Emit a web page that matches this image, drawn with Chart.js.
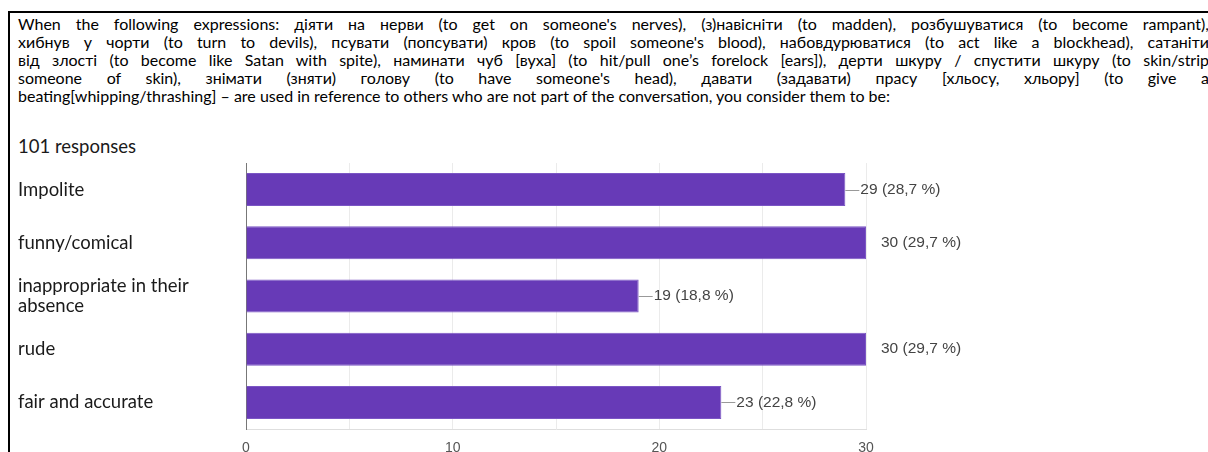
<!DOCTYPE html>
<html>
<head>
<meta charset="utf-8">
<script src="https://cdn.jsdelivr.net/npm/chart.js@4"></script>
<style>
  html, body { margin: 0; padding: 0; background: #fff; }
  body { width: 1208px; height: 452px; overflow: hidden; position: relative; }
  .frame { position: absolute; left: 8px; top: 11px; width: 1300px; height: 500px;
           border-top: 2px solid #000; border-left: 2px solid #000; }
  .question { position: absolute; left: 18px; top: 15px; width: 1191px;
              font-family: 'Lato', sans-serif; font-size: 16px; color: #000; }
  .question div { height: 18px; line-height: 18px; white-space: nowrap; }
  .question .just { text-align: justify; text-align-last: justify; }
  .responses { position: absolute; left: 18px; top: 135px;
               font-family: 'Lato', sans-serif; font-size: 18.5px; color: #1a1a1a; }
  #chart { position: absolute; left: 0; top: 150px; }
</style>
</head>
<body>
<div class="frame"></div>
<div class="question">
  <div class="just">When the following expressions: діяти на нерви (to get on someone's nerves), (з)навісніти (to madden), розбушуватися (to become rampant),</div>
  <div class="just">хибнув у чорти (to turn to devils), псувати (попсувати) кров (to spoil someone's blood), набовдурюватися (to act like a blockhead), сатаніти</div>
  <div class="just">від злості (to become like Satan with spite), наминати чуб [вуха] (to hit/pull one’s forelock [ears]), дерти шкуру / спустити шкуру (to skin/strip</div>
  <div class="just">someone of skin), знімати (зняти) голову (to have someone's head), давати (задавати) прасу [хльосу, хльору] (to give a</div>
  <div>beating[whipping/thrashing] – are used in reference to others who are not part of the conversation, you consider them to be:</div>
</div>
<div class="responses">101 responses</div>
<canvas id="chart" width="1208" height="310"></canvas>
<script>
const categories = ['Impolite', 'funny/comical', ['inappropriate in their', 'absence'], 'rude', 'fair and accurate'];
const counts = [29, 30, 19, 30, 23];
const totalResponses = 101;
const xTickLabels = [0, 10, 20, 30];

function pctLabel(v) {
  return v + ' (' + (v / totalResponses * 100).toFixed(1).replace('.', ',') + ' %)';
}

// value labels with a short leader line, like google forms
const valueLabels = {
  id: 'valueLabels',
  afterDatasetsDraw(chart) {
    const ctx = chart.ctx;
    const xMax = chart.scales.x.max;
    const meta = chart.getDatasetMeta(0);
    ctx.save();
    ctx.font = '15.5px "Liberation Sans", Arial, sans-serif';
    ctx.fillStyle = '#444';
    ctx.strokeStyle = '#999';
    ctx.lineWidth = 1;
    ctx.textAlign = 'left';
    ctx.textBaseline = 'middle';
    meta.data.forEach((bar, i) => {
      const v = counts[i];
      const y = Math.round(bar.y) + 0.5;
      if (v < xMax) {
        ctx.beginPath();
        ctx.moveTo(bar.x, y);
        ctx.lineTo(bar.x + 14, y);
        ctx.stroke();
      }
      ctx.fillText(pctLabel(v), bar.x + 15, bar.y);
    });
    ctx.restore();
  }
};

new Chart(document.getElementById('chart').getContext('2d'), {
  type: 'bar',
  data: {
    labels: categories,
    datasets: [{
      data: counts,
      backgroundColor: '#673ab7',
      borderColor: '#7b56c4',
      borderWidth: 1,
      barPercentage: 0.62,
      categoryPercentage: 1
    }]
  },
  options: {
    indexAxis: 'y',
    responsive: false,
    animation: false,
    layout: { padding: { left: 18, right: 342, top: 13, bottom: 0 } },
    plugins: { legend: { display: false }, tooltip: { enabled: false } },
    scales: {
      x: {
        min: 0,
        max: 30,
        ticks: {
          stepSize: 5,
          padding: 11,
          color: '#555',
          font: { family: '"Liberation Sans", Arial, sans-serif', size: 14 },
          callback: v => xTickLabels.includes(v) ? v : ''
        },
        grid: { color: '#ebebeb', drawTicks: false },
        border: { color: '#dedede' },
        afterFit: s => { s.height = 31; }
      },
      y: {
        ticks: {
          crossAlign: 'far',
          padding: 0,
          autoSkip: false,
          color: '#1a1a1a',
          font: { family: 'Lato, sans-serif', size: 18.5, lineHeight: 1.1 }
        },
        grid: { display: false },
        border: { color: '#777' },
        afterFit: s => { s.width = 228; }
      }
    }
  },
  plugins: [valueLabels]
});
</script>
</body>
</html>
